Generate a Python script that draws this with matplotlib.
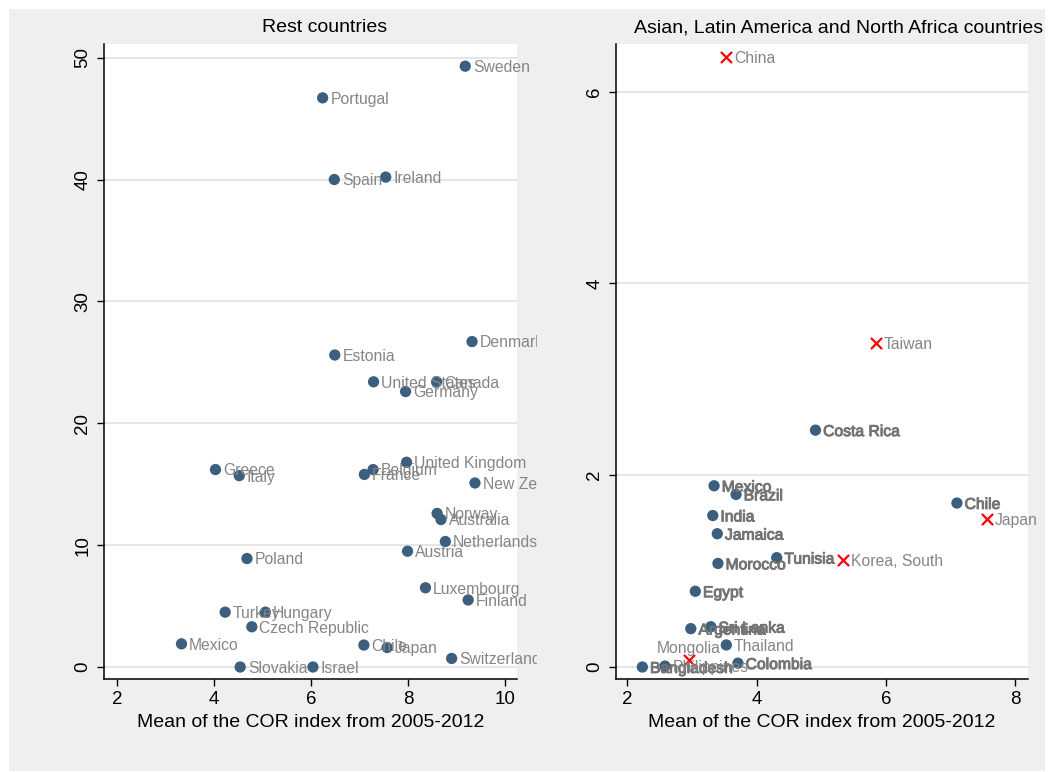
import numpy as np
import matplotlib.pyplot as plt
import matplotlib.patheffects as pe
from matplotlib.patches import Rectangle
from matplotlib.transforms import Bbox, TransformedBbox

plt.rcParams['font.family'] = ['Liberation Sans', 'DejaVu Sans']

# Rest countries (left panel)
left_names = ['Sweden', 'Portugal', 'Spain', 'Ireland', 'Denmark', 'Estonia',
              'United States', 'Canada', 'Germany', 'United Kingdom', 'Greece',
              'Italy', 'Belgium', 'France', 'New Zealand', 'Norway', 'Australia',
              'Netherlands', 'Austria', 'Poland', 'Luxembourg', 'Finland', 'Turkey',
              'Hungary', 'Czech Republic', 'Mexico', 'Chile', 'Japan',
              'Switzerland', 'Slovakia', 'Israel']
left_cor = [9.18, 6.24, 6.48, 7.54, 9.32, 6.49, 7.29, 8.59, 7.95, 7.97, 4.03,
            4.52, 7.28, 7.10, 9.38, 8.60, 8.68, 8.77, 7.99, 4.68, 8.36, 9.24,
            4.23, 5.06, 4.78, 3.33, 7.09, 7.57, 8.90, 4.54, 6.04]
left_val = [49.3, 46.7, 40.0, 40.2, 26.7, 25.6, 23.4, 23.4, 22.6, 16.8, 16.2,
            15.7, 16.2, 15.8, 15.1, 12.6, 12.1, 10.3, 9.5, 8.9, 6.5, 5.5,
            4.5, 4.5, 3.3, 1.9, 1.8, 1.6, 0.7, 0.0, 0.0]

# Asian, Latin America and North Africa countries (right panel)
right_names = ['China', 'Taiwan', 'Costa Rica', 'Mexico', 'Brazil', 'Chile',
               'Japan', 'India', 'Jamaica', 'Morocco', 'Tunisia', 'Korea, South',
               'Egypt', 'Argentina', 'Sri Lanka', 'Thailand', 'Mongolia',
               'Bangladesh', 'Philippines', 'Colombia']
right_cor = [3.53, 5.85, 4.91, 3.34, 3.68, 7.10, 7.57, 3.32, 3.39, 3.40, 4.31,
             5.34, 3.05, 2.98, 3.29, 3.53, 2.95, 2.23, 2.58, 3.71]
right_val = [6.36, 3.38, 2.47, 1.89, 1.80, 1.71, 1.54, 1.58, 1.39, 1.08, 1.14,
             1.12, 0.79, 0.40, 0.42, 0.23, 0.07, 0.0, 0.01, 0.04]
right_group = ['asia', 'asia', 'other', 'other', 'other', 'other', 'asia',
               'other', 'other', 'other', 'other', 'asia', 'other', 'other',
               'other', 'other', 'asia', 'other', 'other', 'other']
# these labels are drawn twice in the original, so they look heavier
right_double = ['Costa Rica', 'Mexico', 'Brazil', 'Chile', 'India', 'Jamaica',
                'Morocco', 'Tunisia', 'Egypt', 'Argentina', 'Sri Lanka',
                'Bangladesh', 'Colombia']

blue = '#3c5f7d'
lab_gray = '#858585'
W, H = 1053, 772


def px(x0, y0, x1, y1):
    # pixel box (top-left origin) -> figure fraction rect
    return [x0 / W, 1 - y1 / H, (x1 - x0) / W, (y1 - y0) / H]


def style_axis(ax):
    ax.set_facecolor('white')
    for s in ['top', 'right']:
        ax.spines[s].set_visible(False)
    for s in ['left', 'bottom']:
        ax.spines[s].set_linewidth(1.1)
        ax.spines[s].set_color('black')
    ax.grid(axis='y', color='#e6e6e6', linewidth=1.4)
    ax.set_axisbelow(True)
    ax.tick_params(direction='out', length=5, width=1, labelsize=13.5)
    ax.tick_params(axis='x', pad=4)
    ax.tick_params(axis='y', pad=4)
    for t in ax.get_yticklabels():
        t.set_rotation(90)
        t.set_va('center')
    ax.set_xlabel('Mean of the COR index from 2005-2012', fontsize=14, labelpad=4)


fig = plt.figure(figsize=(W / 100, H / 100), dpi=100)
fig.patch.set_facecolor('white')
fig.patches.append(Rectangle((9 / W, 1 / H), (1045 - 9) / W, (771 - 9) / H,
                             transform=fig.transFigure, facecolor='#efefef',
                             edgecolor='none', zorder=-10))

# left panel
ax1 = fig.add_axes(px(104, 44, 517, 679))
ax1.scatter(left_cor, left_val, s=66, color=blue, edgecolors='none', zorder=3)
ax1.set_xlim(1.732, 10.247)
ax1.set_ylim(-0.985, 51.12)
ax1.set_xticks([2, 4, 6, 8, 10])
ax1.set_yticks([0, 10, 20, 30, 40, 50])
style_axis(ax1)
clip1 = TransformedBbox(Bbox([[0, 0], [537 / W, 1]]), fig.transFigure)
for name, x, y in zip(left_names, left_cor, left_val):
    t = ax1.annotate(name, (x, y), xytext=(5.5, -1), textcoords='offset points',
                     ha='left', va='center', fontsize=11.3, color=lab_gray,
                     annotation_clip=False)
    t.set_clip_on(True)
    t.set_clip_box(clip1)

# right panel
ax2 = fig.add_axes(px(616, 44, 1028, 679))
for g, mk in [('other', 'o'), ('asia', 'x')]:
    xs = [x for x, gg in zip(right_cor, right_group) if gg == g]
    ys = [y for y, gg in zip(right_val, right_group) if gg == g]
    if mk == 'o':
        ax2.scatter(xs, ys, s=66, color=blue, edgecolors='none', zorder=3)
    else:
        ax2.scatter(xs, ys, s=64, color='red', marker='x', linewidths=1.6, zorder=3)
ax2.set_xlim(1.822, 8.20)
ax2.set_ylim(-0.125, 6.497)
ax2.set_xticks([2, 4, 6, 8])
ax2.set_yticks([0, 2, 4, 6])
style_axis(ax2)
for name, x, y in zip(right_names, right_cor, right_val):
    if name == 'Mongolia':
        kw = dict(xytext=(0, 3), ha='center', va='bottom')
    else:
        kw = dict(xytext=(5.5, -1), ha='left', va='center')
    t = ax2.annotate(name, (x, y), textcoords='offset points', fontsize=11.3,
                     color=lab_gray, annotation_clip=False, **kw)
    t.set_clip_on(False)
    if name in right_double:
        t.set_color('#747474')
        t.set_path_effects([pe.withStroke(linewidth=0.7, foreground='#747474')])

fig.text(325 / W, 1 - 28 / H, 'Rest countries', ha='center', va='center', fontsize=14)
fig.text(839 / W, 1 - 28 / H, 'Asian, Latin America and North Africa countries',
         ha='center', va='center', fontsize=14)

fig.savefig('out.png', dpi=100)
